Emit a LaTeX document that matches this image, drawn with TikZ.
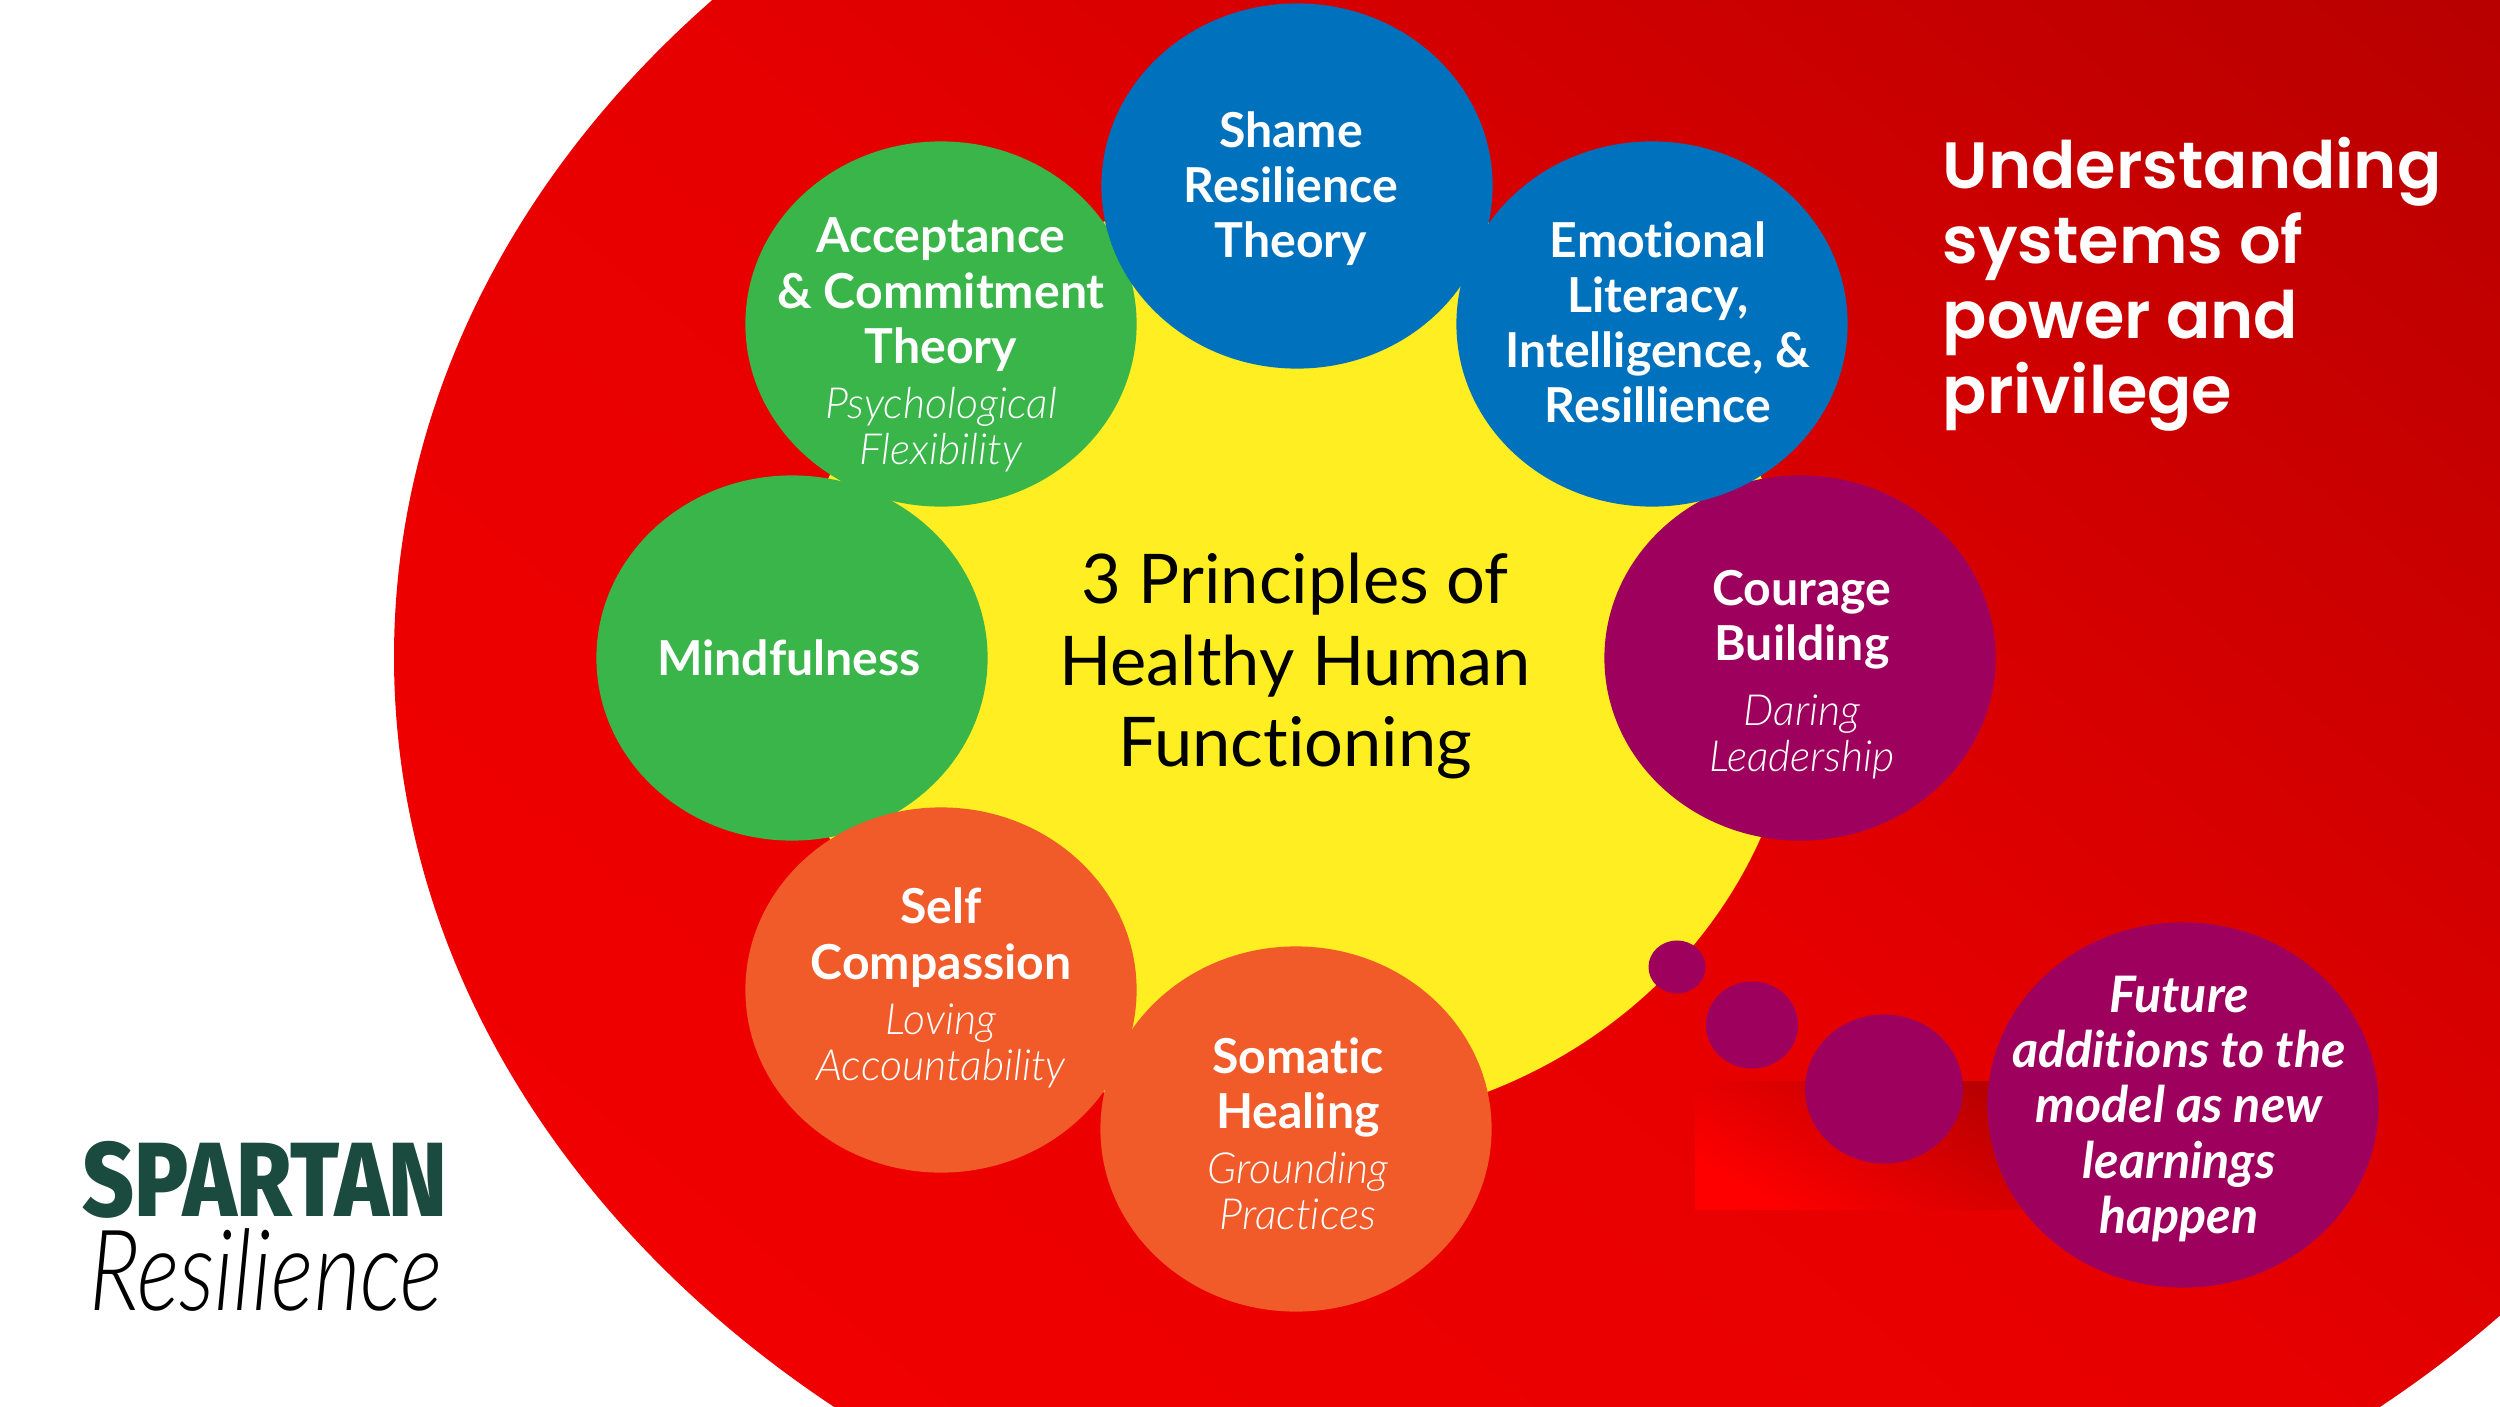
\documentclass[tikz,border=0pt]{standalone}
\usepackage{fontspec}
\usepackage{tikz}
\usetikzlibrary{shapes.geometric}
\setmainfont{Lato}[Ligatures=NoCommon]
\newfontfamily\titlefont{Poppins}[BoldFont=* SemiBold]
\newfontfamily\logofont{Fira Sans}[FakeStretch=0.85,BoldFont=* ExtraBold]
\newfontfamily\handfont{Lato}[FakeStretch=0.8,Ligatures=NoCommon,UprightFont=* Light,ItalicFont=* Light Italic]
\newfontfamily\subfont{Lato}[Ligatures=NoCommon,UprightFont=* Light,ItalicFont=* Light Italic]
\newcommand{\subtxt}[1]{{\fontsize{12.2}{13}\subfont\mdseries\itshape #1}}
\definecolor{shameblue}{HTML}{0071BC}
\definecolor{mindgreen}{HTML}{39B54A}
\definecolor{selforange}{HTML}{F15A29}
\definecolor{couragepurple}{HTML}{9E005D}
\definecolor{coreyellow}{HTML}{FFEE22}
\definecolor{logogreen}{HTML}{1B4A3E}
\definecolor{redlow}{HTML}{F60000}
\definecolor{redmid}{HTML}{E60000}
\definecolor{reddeep}{HTML}{C80000}
\definecolor{redhigh}{HTML}{B80000}
\pgfdeclareverticalshading{redfield}{100bp}{color(0bp)=(redlow); color(25bp)=(redlow);
  color(53bp)=(redmid); color(67bp)=(reddeep); color(75bp)=(redhigh); color(100bp)=(redhigh)}
\tikzset{
  bubble/.style={ellipse,minimum width=3.91cm,minimum height=3.65cm,inner sep=0pt},
  puff/.style={ellipse,inner sep=0pt,fill=couragepurple},
  bubbletext/.style={align=center,text=white,inner sep=0pt,
    font=\fontsize{13.7}{15.65}\selectfont\bfseries}
}
\begin{document}
\begin{tikzpicture}[x=0.01cm,y=-0.01cm]
  \useasboundingbox (0,0) rectangle (2500,1406);
  % red field
  \begin{scope}
    \clip (1607,657) ellipse [x radius=1213,y radius=973];
    \shade[shading=redfield,shading angle=-40] (-96,-643) rectangle (2596,2049);
  \end{scope}
  \shade[bottom color=red,middle color=redmid,top color=redhigh,shading angle=-30] (1695,1081) rectangle (2050,1209);
  % centre
  \node[ellipse,minimum width=10.08cm,minimum height=9.4cm,inner sep=0pt,fill=coreyellow] (core) at (1295,657) {};
  % ring of bubbles
  \node[bubble,fill=mindgreen] (mind) at (792,658) {};
  \node[bubble,fill=mindgreen] (accept) at (941,324) {};
  \node[bubble,fill=couragepurple] (courage) at (1800,658) {};
  \node[bubble,fill=shameblue] (emotion) at (1652,324) {};
  \node[bubble,fill=shameblue] (shame) at (1297,186) {};
  \node[bubble,fill=selforange] (self) at (941,990) {};
  \node[bubble,fill=selforange] (somatic) at (1296,1129) {};
  % thought trail
  \node[puff,minimum width=0.57cm,minimum height=0.53cm] (puffa) at (1677,967) {};
  \node[puff,minimum width=0.92cm,minimum height=0.87cm] (puffb) at (1752,1025) {};
  \node[puff,minimum width=1.58cm,minimum height=1.49cm] (puffc) at (1884,1089) {};
  \node[bubble,fill=couragepurple] (future) at (2183,1105) {};
  % labels
  \node[align=center,inner sep=0pt,font=\fontsize{19.5}{23.3}\selectfont] (corelabel) at (1295,666)
    {3 Principles of\\Healthy Human\\Functioning};
  \node[bubbletext] (shamelabel) at (1291,189) {Shame\\Resilience\\Theory};
  \node[bubbletext] (emotionlabel) at (1658,322) {Emotional\\Literacy,\\Intelligence, \&\\Resillience};
  \node[bubbletext] (acceptlabel) at (941,345)
    {Acceptance\\\& Commitment\\Theory\\\subtxt{Psychological}\\[-2.5pt]\subtxt{Flexibility}};
  \node[bubbletext] (mindlabel) at (789,658) {Mindfulness};
  \node[bubbletext] (couragelabel) at (1802,675)
    {Courage\\Building\\[2.7pt]\subtxt{Daring}\\[-2.5pt]\subtxt{Leadership}};
  \node[bubbletext] (selflabel) at (941,988)
    {Self\\Compassion\\\subtxt{Loving}\\[-2.5pt]\subtxt{Accountability}};
  \node[bubbletext] (somaticlabel) at (1298,1134)
    {Somatic\\Healing\\\subtxt{Grounding}\\[-2.5pt]\subtxt{Practices}};
  \node[bubbletext,font=\fontsize{14.3}{15.65}\selectfont\bfseries\itshape] (futurelabel) at (2179,1109)
    {Future\\additions to the\\model as new\\learnings\\happen};
  \node[anchor=west,align=left,text=white,inner sep=0pt,font=\fontsize{18.6}{21.3}\selectfont\titlefont\bfseries] (powerlabel) at (1942,284)
    {Understanding\\systems of\\power and\\privilege};
  % logo
  \node[inner sep=0pt,text=logogreen,font=\fontsize{30}{30}\selectfont\logofont\bfseries] (spartan) at (265,1180) {SPARTAN};
  \node[inner sep=0pt,font=\fontsize{32}{32}\selectfont\handfont\itshape] (resilience) at (266,1270) {Resilience};
\end{tikzpicture}
\end{document}
